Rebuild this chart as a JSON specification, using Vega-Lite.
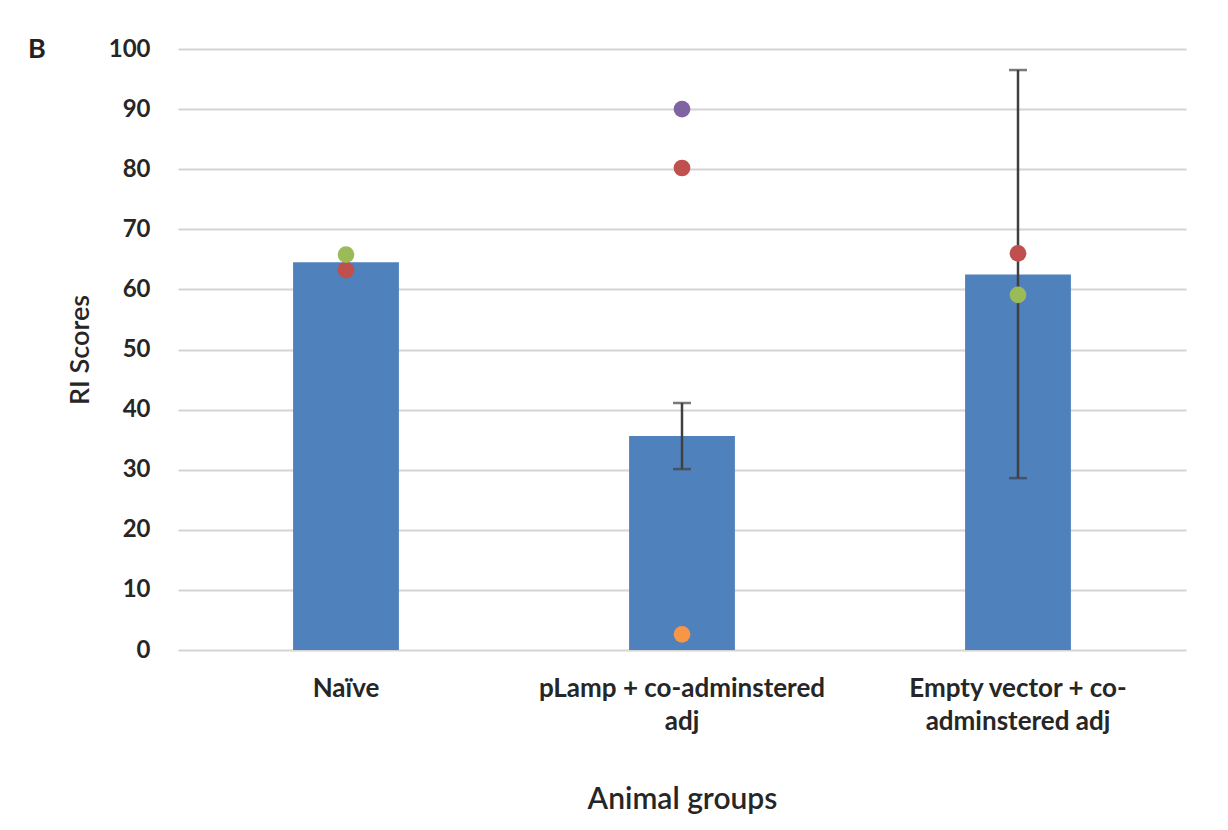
{
  "$schema": "https://vega.github.io/schema/vega-lite/v6.json",
  "autosize": "none",
  "width": 1008,
  "height": 601,
  "padding": {"left": 178, "top": 49, "right": 42, "bottom": 180},
  "background": "white",
  "config": {
    "view": {"stroke": null},
    "font": "Lato",
    "axis": {"labelFont": "Lato", "titleFont": "Lato"}
  },
  "title": {
    "text": "B",
    "anchor": "start",
    "frame": "group",
    "orient": "top",
    "baseline": "middle",
    "offset": 0,
    "dx": -150,
    "dy": 40,
    "fontSize": 27,
    "fontWeight": "bold",
    "color": "#222222",
    "font": "Lato"
  },
  "datasets": {
    "bars": [
      {"group": "Naïve", "score": 64.5},
      {"group": "pLamp + co-adminstered|adj", "score": 35.6, "lo": 30.1, "hi": 41.1},
      {"group": "Empty vector + co-|adminstered  adj", "score": 62.5, "lo": 28.6, "hi": 96.5}
    ],
    "points": [
      {"group": "Naïve", "animal": "A1", "score": 63.2},
      {"group": "Naïve", "animal": "A2", "score": 65.8},
      {"group": "pLamp + co-adminstered|adj", "animal": "A3", "score": 90},
      {"group": "pLamp + co-adminstered|adj", "animal": "A1", "score": 80.2},
      {"group": "pLamp + co-adminstered|adj", "animal": "A4", "score": 2.6},
      {"group": "Empty vector + co-|adminstered  adj", "animal": "A1", "score": 66},
      {"group": "Empty vector + co-|adminstered  adj", "animal": "A2", "score": 59.1}
    ]
  },
  "encoding": {
    "x": {
      "field": "group",
      "type": "nominal",
      "sort": null,
      "scale": {"paddingInner": 0.685, "paddingOuter": 0.3425},
      "axis": {
        "title": "Animal groups",
        "labelAngle": 0,
        "labelExpr": "split(datum.value, '|')",
        "labelLimit": 0,
        "labelFontSize": 26,
        "labelFontWeight": "bold",
        "labelColor": "#262626",
        "labelLineHeight": 33,
        "labelPadding": 25,
        "ticks": false,
        "domain": false,
        "titleFontSize": 30,
        "titleFontWeight": 600,
        "titleColor": "#262626",
        "titlePadding": 50
      }
    }
  },
  "layer": [
    {
      "data": {"name": "bars"},
      "mark": {"type": "bar", "color": "#4f81bd"},
      "encoding": {
        "y": {
          "field": "score",
          "type": "quantitative",
          "scale": {"domain": [0, 100], "nice": false},
          "axis": {
            "title": "RI Scores",
            "values": [0, 10, 20, 30, 40, 50, 60, 70, 80, 90, 100],
            "grid": true,
            "gridColor": "#d4d4d4",
            "gridWidth": 2,
            "domain": false,
            "ticks": false,
            "tickSize": 0,
            "labelPadding": 28,
            "labelFontSize": 24,
            "labelFontWeight": "bold",
            "labelColor": "#262626",
            "titleFontSize": 27,
            "titleFontWeight": 600,
            "titleColor": "#262626",
            "titlePadding": 14
          }
        }
      }
    },
    {
      "data": {"name": "bars"},
      "mark": {"type": "rule", "color": "#404040", "strokeWidth": 2.5},
      "encoding": {
        "y": {"field": "lo", "type": "quantitative"},
        "y2": {"field": "hi"}
      }
    },
    {
      "data": {"name": "bars"},
      "mark": {"type": "tick", "color": "#404040", "thickness": 2.5, "size": 18, "orient": "horizontal"},
      "encoding": {"y": {"field": "lo", "type": "quantitative"}}
    },
    {
      "data": {"name": "bars"},
      "mark": {"type": "tick", "color": "#404040", "thickness": 2.5, "size": 18, "orient": "horizontal"},
      "encoding": {"y": {"field": "hi", "type": "quantitative"}}
    },
    {
      "data": {"name": "points"},
      "mark": {"type": "circle", "size": 280, "opacity": 1},
      "encoding": {
        "y": {"field": "score", "type": "quantitative"},
        "color": {
          "field": "animal",
          "type": "nominal",
          "scale": {"domain": ["A1", "A2", "A3", "A4"], "range": ["#c0504d", "#9bbb59", "#8064a2", "#f79646"]},
          "legend": null
        }
      }
    }
  ]
}
